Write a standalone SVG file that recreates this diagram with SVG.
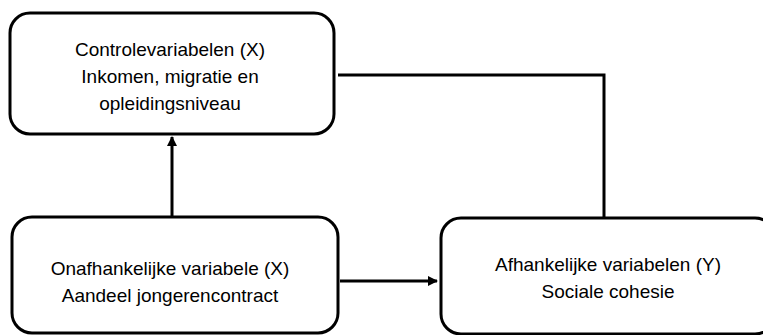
<svg xmlns="http://www.w3.org/2000/svg" width="763" height="335" viewBox="0 0 763 335">
<style>
.node{fill:#fff;stroke:#000;stroke-width:3}
.t{font-family:"Liberation Sans",Arial,sans-serif;font-size:19px;fill:#000;text-anchor:middle}
.c{fill:none;stroke:#000;stroke-width:3}
</style>
<defs>
<marker id="ah" markerWidth="10" markerHeight="10" refX="9" refY="5" orient="auto" markerUnits="userSpaceOnUse" viewBox="0 0 10 10">
<path d="M0,0 L10,5 L0,10 z" fill="#000"/>
</marker>
</defs>
<rect width="763" height="335" fill="#fff"/>
<g id="connectors">
<path class="c" d="M172,216 V137" marker-end="url(#ah)"/>
<path class="c" d="M340,281 H437" marker-end="url(#ah)"/>
<path class="c" d="M338,75 H604 V217"/>
</g>
<g id="controle">
<rect class="node" x="10" y="13" width="324" height="121" rx="20"/>
<text class="t" x="170" y="56">Controlevariabelen (X)</text>
<text class="t" x="170" y="83">Inkomen, migratie en</text>
<text class="t" x="170" y="110">opleidingsniveau</text>
</g>
<g id="onafhankelijk">
<rect class="node" x="12" y="217" width="326" height="116" rx="20"/>
<text class="t" x="170" y="275">Onafhankelijke variabele (X)</text>
<text class="t" x="170" y="302">Aandeel jongerencontract</text>
</g>
<g id="afhankelijk">
<rect class="node" x="441" y="218" width="334" height="116" rx="20"/>
<text class="t" x="608" y="271">Afhankelijke variabelen (Y)</text>
<text class="t" x="608" y="298">Sociale cohesie</text>
</g>
</svg>
